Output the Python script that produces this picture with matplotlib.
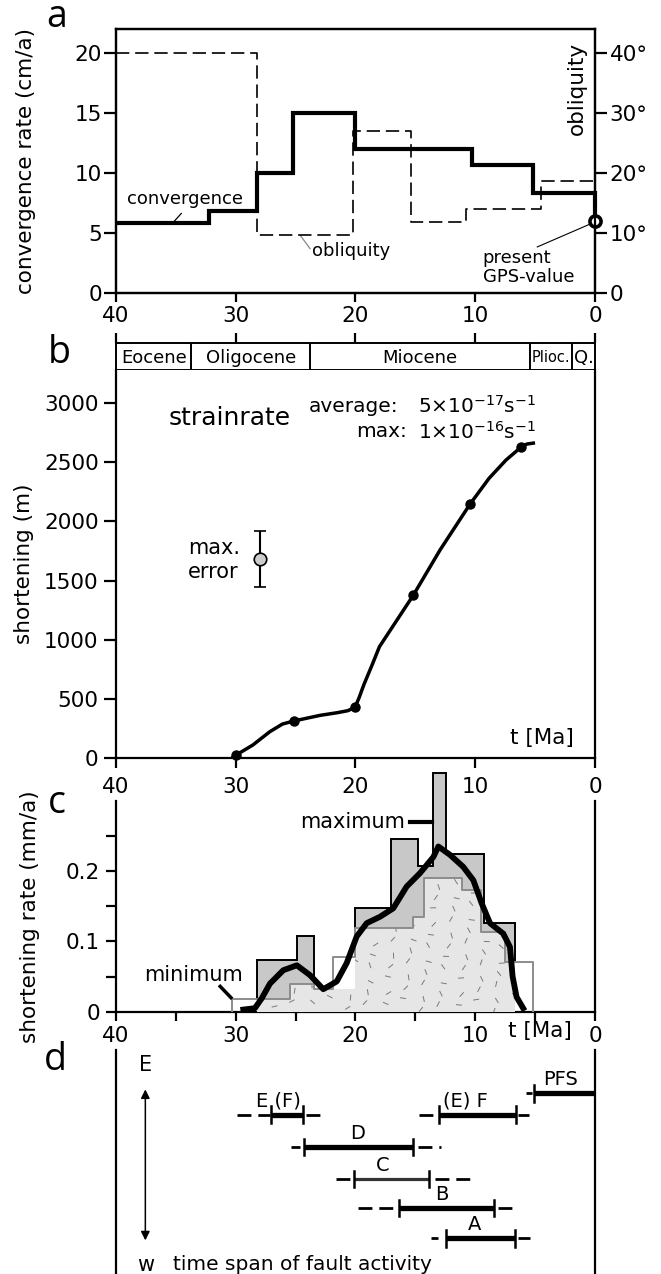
import numpy as np
import matplotlib
matplotlib.use("Agg")
import matplotlib.pyplot as plt
from matplotlib.collections import LineCollection

# --- panel a: convergence rate and obliquity (steps, t in Ma) ---
conv_edges = [40, 32.2, 28.2, 25.2, 20.0, 10.3, 5.2, 0]
conv_rate = [5.8, 6.85, 10.0, 15.0, 12.0, 10.7, 8.3]
obl_edges = [40, 28.2, 20.2, 15.4, 10.8, 4.55, 0]
obl_deg = [40, 9.6, 27, 11.8, 14, 18.6]
gps_rate = 6.0

# --- panel b: epochs and cumulative shortening ---
epoch_edges = [40, 33.7, 23.8, 5.43, 1.91, 0]
epoch_names = ["Eocene", "Oligocene", "Miocene", "Plioc.", "Q."]
short_t = [30.0, 25.15, 20.04, 15.18, 10.43, 6.14]
short_m = [25, 313, 428, 1375, 2147, 2631]
curve_t = [30.3, 29.97, 28.57, 27.16, 26.1, 25.15, 22.93, 21.52, 20.64, 20.04,
           19.7, 19.3, 18.6, 18.0, 15.18, 12.93, 10.43, 8.85, 7.44, 6.14, 5.68, 5.15]
curve_m = [0, 25, 110, 222, 287, 313, 361, 383, 400, 428,
           510, 620, 790, 941, 1375, 1760, 2147, 2364, 2518, 2631, 2654, 2662]
err_t, err_m, err_half = 27.97, 1683, 235

# --- panel c: shortening rate ---
max_edges = [28.25, 24.9, 23.5, 20.0, 17.0, 14.76, 13.5, 12.44, 9.3, 6.7]
max_rate = [0.0735, 0.107, np.nan, 0.147, 0.245, 0.207, 0.340, 0.224, 0.126]
min_edges = [30.35, 28.2, 25.5, 23.5, 21.85, 20.0, 15.2, 14.25, 11.13, 9.5, 7.5, 6.7, 5.16]
min_rate = [0.018, 0.018, 0.040, 0.033, 0.078, 0.119, 0.134, 0.190, 0.173, 0.114, 0.071, 0.071]
fill_rate = [0, 0.018, 0.040, 0.033, 0.033, 0.119, 0.134, 0.190, 0.173, 0.114, 0.071, 0]
trend_t = [29.37, 28.4, 27.83, 27.14, 26.03, 24.9, 23.8, 22.69, 21.57, 20.74, 19.9, 19.06,
           17.96, 16.85, 15.73, 14.62, 13.5, 13.08, 12.1, 11.0, 10.16, 9.46, 8.77,
           7.66, 7.1, 6.88, 6.55, 6.0]
trend_rate = [0.003, 0.005, 0.019, 0.040, 0.059, 0.066, 0.052, 0.032, 0.043, 0.069, 0.107, 0.126,
              0.135, 0.147, 0.178, 0.197, 0.220, 0.235, 0.223, 0.206, 0.187, 0.154, 0.126,
              0.111, 0.092, 0.050, 0.021, 0.005]

# --- panel d: fault activity ---
fault_names = ["PFS", "E (F)", "(E) F", "D", "C", "B", "A"]
fault_row = [4.75, 4.05, 4.05, 3.0, 1.95, 1.0, 0.0]
active_start = [5.07, 27.05, 13.0, 24.3, 20.1, 16.4, 12.45]
active_end = [0.0, 24.4, 6.6, 15.2, 13.9, 8.45, 6.7]
pre_start = [5.8, 29.9, 14.7, 25.4, 21.6, 19.8, 13.7]
pre_end = [5.3, 27.15, 13.3, 24.6, 20.5, 16.8, 13.1]
post_start = [None, 24.1, 6.4, 14.8, 13.4, 8.1, 6.4]
post_end = [None, 23.0, 5.5, 12.9, 10.3, 6.8, 5.4]
label_t = [2.9, 26.45, 10.8, 19.8, 17.7, 12.8, 10.1]

plt.rcParams["font.family"] = ["DejaVu Sans"]
plt.rcParams["font.size"] = 15.5
plt.rcParams["axes.linewidth"] = 1.6
plt.rcParams["xtick.major.width"] = 1.6
plt.rcParams["ytick.major.width"] = 1.6
plt.rcParams["xtick.minor.width"] = 1.6
plt.rcParams["ytick.minor.width"] = 1.6

W, H = 661, 1274
fig = plt.figure(figsize=(W / 100, H / 100), dpi=100, facecolor="white")


def px_axes(left, top, right, bottom):
    # axes placed in pixel coordinates of the reference picture
    return fig.add_axes([left / W, 1 - bottom / H, (right - left) / W, (bottom - top) / H])


def step_outline(edges, vals):
    xs, ys = [edges[0]], [0.0]
    for i, v in enumerate(vals):
        xs += [edges[i], edges[i + 1]]
        ys += [v, v]
    xs.append(edges[-1])
    ys.append(0.0)
    return xs, ys


letter_font = dict(family="Open Sans", fontsize=27, ha="center", va="baseline")

# ================= a =================
ax_a = px_axes(116, 29, 595, 293)
ax_a.set_xlim(40, 0)
ax_a.set_ylim(0, 22)
ax_a.step(conv_edges, conv_rate + [conv_rate[-1]], where="post", color="black", lw=3,
          solid_joinstyle="miter", zorder=4)
ax_a.plot([conv_edges[-1]] * 2, [conv_rate[-1], gps_rate], color="black", lw=3, zorder=4, clip_on=False)
ax_a.plot(conv_edges[-1], gps_rate, "o", ms=8, mfc="white", mec="black", mew=2.6, zorder=10, clip_on=False)
ax_a.set_xticks([40, 30, 20, 10, 0])
ax_a.set_yticks([0, 5, 10, 15, 20])
ax_a.tick_params(axis="x", length=6.5, pad=3)
ax_a.tick_params(axis="y", length=9, pad=1)
ax_a.set_ylabel("convergence rate (cm/a)")
ax_a.yaxis.set_label_coords(-0.167, 0.5)

ax_o = ax_a.twinx()
ax_o.set_ylim(0, 44)
ax_o.step(obl_edges, obl_deg + [obl_deg[-1]], where="post", color="black", lw=1.2,
          linestyle=(0, (8, 3.5)), zorder=3)
ax_o.set_yticks([0, 10, 20, 30, 40])
ax_o.set_yticklabels(["0", "10°", "20°", "30°", "40°"])
ax_o.tick_params(axis="y", length=8.5, pad=2)

ax_a.text(0.962, 0.776, "obliquity", rotation=90, transform=ax_a.transAxes, ha="center", va="center")
ax_a.text(39.1, 7.8, "convergence", fontsize=13, ha="left", va="center")
ax_a.plot([35.25, 34.55], [5.85, 6.63], color="black", lw=0.9)
ax_a.text(23.64, 3.5, "obliquity", fontsize=13, ha="left", va="center")
ax_a.plot([24.6, 23.8], [4.79, 3.7], color="#888888", lw=0.9)
ax_a.text(9.39, 2.1, "present\nGPS-value", fontsize=13, ha="left", va="center", linespacing=1.05)
ax_a.plot([4.82, 0.42], [3.84, 5.74], color="black", lw=0.8)
fig.text(56.5 / W, 1 - 27 / H, "a", **letter_font)

# ================= b =================
ax_e = px_axes(116, 343, 595, 370)
ax_e.set_xlim(40, 0)
ax_e.set_ylim(0, 1)
ax_e.set_yticks([])
ax_e.set_xticks([40, 30, 20, 10, 0])
ax_e.tick_params(axis="x", top=True, bottom=False, labeltop=False, labelbottom=False,
                 direction="out", length=7)
for spine in ax_e.spines.values():
    spine.set_linewidth(1.4)
for i, name in enumerate(epoch_names):
    if i > 0:
        ax_e.axvline(epoch_edges[i], color="black", lw=1.4)
    mid = (epoch_edges[i] + epoch_edges[i + 1]) / 2
    size = 10.5 if name == "Plioc." else 13
    ax_e.text(mid, 0.45, name, fontsize=size, ha="center", va="center")

ax_b = px_axes(116, 370, 595, 758)
ax_b.set_xlim(40, 0)
ax_b.set_ylim(0, 3280)
ax_b.spines["top"].set_visible(False)
ax_b.plot(curve_t, curve_m, color="black", lw=2.5, zorder=3, solid_joinstyle="round")
ax_b.plot(short_t, short_m, "o", color="black", ms=6.5, zorder=4, clip_on=False)
ax_b.errorbar(err_t, err_m, yerr=err_half, fmt="o", ms=9, mfc="#cccccc", mec="black", mew=1.2,
              ecolor="black", elinewidth=1.5, capsize=4.5, capthick=1.5)
ax_b.set_xticks([40, 30, 20, 10, 0])
ax_b.set_yticks(range(0, 3001, 500))
ax_b.tick_params(axis="x", length=7, pad=6.5)
ax_b.tick_params(axis="y", length=9, pad=3.5)
ax_b.set_ylabel("shortening (m)")
ax_b.yaxis.set_label_coords(-0.171, 0.5)

ax_b.text(30.5, 2871, "strainrate", fontsize=18, ha="center", va="center")
ax_b.text(16.4, 2975, "average:", fontsize=14.5, ha="right", va="center")
ax_b.text(14.8, 2975, r"5$\times$10$^{-17}$s$^{-1}$", fontsize=14.5, ha="left", va="center")
ax_b.text(15.7, 2758, "max:", fontsize=14.5, ha="right", va="center")
ax_b.text(14.8, 2758, r"1$\times$10$^{-16}$s$^{-1}$", fontsize=14.5, ha="left", va="center")
ax_b.text(34.0, 1675, "max.\nerror", fontsize=15, ha="left", va="center", linespacing=1.25)
ax_b.text(4.45, 166, "t [Ma]", ha="center", va="center")
fig.text(59 / W, 1 - 363 / H, "b", **letter_font)

# ================= c =================
ax_c = px_axes(116, 1011.7 - 0.3 * 703, 595, 1011.7)
ax_c.set_xlim(40, 0)
ax_c.set_ylim(0, 0.3)
ax_c.spines["top"].set_visible(False)

# maximum estimate, split where no value exists
seg_e, seg_v = [max_edges[0]], []
segments = []
for i, v in enumerate(max_rate):
    if np.isnan(v):
        if seg_v:
            segments.append((seg_e, seg_v))
        seg_e, seg_v = [max_edges[i + 1]], []
    else:
        seg_v.append(v)
        seg_e.append(max_edges[i + 1])
if seg_v:
    segments.append((seg_e, seg_v))
for e, v in segments:
    xs, ys = step_outline(e, v)
    ax_c.fill(xs, ys, facecolor="#c8c8c8", edgecolor="black", lw=1.4, zorder=1, clip_on=False)

# minimum estimate
xs, ys = step_outline(min_edges, min_rate)
ax_c.fill(xs, ys, facecolor="white", edgecolor="none", zorder=2)
fx, fy = step_outline(min_edges, fill_rate)
fill_patch = ax_c.fill(fx, fy, facecolor="#e6e6e6", edgecolor="none", zorder=3)[0]

# short scattered dashes as texture inside the light area
k = np.arange(150)
u = (k * 0.7548777) % 1
v = (k * 0.5698403) % 1
ang = ((k * 0.41421356) % 1) * np.pi
x0 = min_edges[1] - u * (min_edges[1] - min_edges[-2])
y0 = v * max(fill_rate)
half = 3.0
dx = half * np.cos(ang) * 40 / 479
dy = half * np.sin(ang) / 703
segs = np.stack([np.column_stack([x0 - dx, y0 - dy]), np.column_stack([x0 + dx, y0 + dy])], axis=1)
tex = LineCollection(segs, colors="#7a7a7a", linewidths=0.7, zorder=3.5)
ax_c.add_collection(tex)
tex.set_clip_path(fill_patch)

ax_c.plot(xs, ys, color="#8c8c8c", lw=1.4, zorder=4)
ax_c.plot(trend_t, trend_rate, color="black", lw=4.2, solid_joinstyle="round", zorder=6)

ax_c.text(15.9, 0.270, "maximum", fontsize=15, ha="right", va="center")
ax_c.plot([15.45, 13.64], [0.270, 0.270], color="black", lw=3, zorder=7)
ax_c.text(33.5, 0.052, "minimum", fontsize=15, ha="center", va="center")
ax_c.plot([31.3, 30.4], [0.036, 0.020], color="black", lw=2.5, zorder=7)

ax_c.set_xticks([40, 30, 20, 10, 0])
ax_c.set_xticks([35, 25, 15, 5], minor=True)
ax_c.set_yticks([0, 0.1, 0.2])
ax_c.set_yticklabels(["0", "0.1", "0.2"])
ax_c.set_yticks([0.05, 0.15, 0.25], minor=True)
ax_c.tick_params(axis="x", which="both", length=6.5, pad=4)
ax_c.tick_params(axis="y", which="both", length=7.5, pad=4)
ax_c.text(4.6, -0.045, "t [Ma]", transform=ax_c.get_xaxis_transform(), ha="center", va="top")
ax_c.set_ylabel("shortening rate (mm/a)")
ax_c.yaxis.set_label_coords(-0.159, 0.45)
fig.text(56.5 / W, 1 - 813 / H, "c", **letter_font)

# ================= d =================
ax_d = px_axes(116, 1050, 595, 1274)
ax_d.set_xlim(40, 0)
ax_d.set_ylim(-1.17, 6.17)
ax_d.spines["top"].set_visible(False)
ax_d.spines["bottom"].set_visible(False)
ax_d.set_xticks([])
ax_d.set_yticks([])

for i, name in enumerate(fault_names):
    y = fault_row[i]
    thin = name == "C"
    ax_d.plot([active_start[i], active_end[i]], [y, y], color="#333333" if thin else "black",
              lw=2.3 if thin else 3.8, solid_capstyle="butt", zorder=3)
    for t in (active_start[i], active_end[i]):
        ax_d.plot([t, t], [y - 0.27, y + 0.27], color="black", lw=1.8, zorder=4)
    ax_d.plot([pre_start[i], pre_end[i]], [y, y], color="black", lw=2, linestyle=(0, (5, 2.5)))
    if post_start[i] is not None:
        ax_d.plot([post_start[i], post_end[i]], [y, y], color="black", lw=2, linestyle=(0, (5, 2.5)))
    ax_d.text(label_t[i], y + 0.45, name, fontsize=14, ha="center", va="center")

ax_d.annotate("", xy=(37.55, 4.97), xytext=(37.55, -0.16),
              arrowprops=dict(arrowstyle="<|-|>", color="black", lw=1.1, mutation_scale=13))
ax_d.text(37.55, 5.68, "E", fontsize=15, ha="center", va="center")
ax_d.text(37.55, -0.87, "w", fontsize=15, ha="center", va="center")
ax_d.text(35.25, -0.87, "time span of fault activity", fontsize=14.5, ha="left", va="center")
fig.text(55.5 / W, 1 - 1070 / H, "d", **letter_font)

fig.savefig("out.png", dpi=100, facecolor="white")
